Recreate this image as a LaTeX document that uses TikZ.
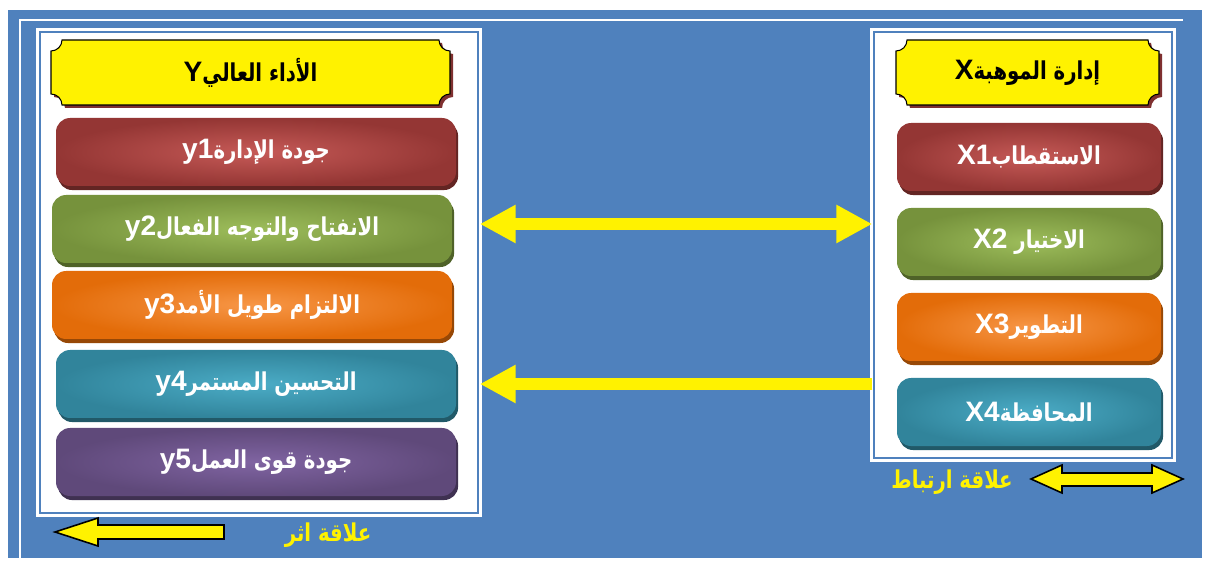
\documentclass[tikz,border=0pt]{standalone}
\usepackage{fontspec}
\setmainfont{Liberation Sans}
\newfontfamily\arabicfont[Script=Arabic, FakeStretch=0.8]{DejaVu Sans}
\TeXXeTstate=1
\usetikzlibrary{arrows.meta,shadows}

\definecolor{frameblue}{HTML}{4F81BD}
\definecolor{headshadow}{HTML}{7F3030}
\definecolor{redout}{HTML}{943634}
\definecolor{redin}{HTML}{C65A57}
\definecolor{redsh}{HTML}{632523}
\definecolor{greenout}{HTML}{76923C}
\definecolor{greenin}{HTML}{9DBD5B}
\definecolor{greensh}{HTML}{4F6228}
\definecolor{orangeout}{HTML}{E36C09}
\definecolor{orangein}{HTML}{F79646}
\definecolor{orangesh}{HTML}{974806}
\definecolor{tealout}{HTML}{31849B}
\definecolor{tealin}{HTML}{4BACC6}
\definecolor{tealsh}{HTML}{215968}
\definecolor{purpleout}{HTML}{5F497A}
\definecolor{purplein}{HTML}{8064A2}
\definecolor{purplesh}{HTML}{3F3151}

\newcommand{\pxu}{0.02cm}
\newcommand{\artext}[1]{{\arabicfont\bfseries\beginR #1\endR}}
\newcommand{\latword}[1]{\beginL{\rmfamily\bfseries\fontsize{16}{18}\selectfont #1}\endL{}}
% plaque outline with concave corners: x0, y0, x1, y1
\newcommand{\plaque}[4]{(#1,#2+11) arc[start angle=90,end angle=0,radius=11]
  -- (#3-11,#2) arc[start angle=180,end angle=90,radius=11]
  -- (#3,#4-11) arc[start angle=270,end angle=180,radius=11]
  -- (#1+11,#4) arc[start angle=0,end angle=-90,radius=11] -- cycle}

\tikzset{
  panel/.style={draw=white, double=frameblue, double distance=0.6pt,
    line width=2pt, fill=white, inner sep=0pt},
  headtext/.style={font=\fontsize{14}{18}\selectfont, text=black},
  item/.style n args={3}{rounded corners=8pt, minimum width=400*\pxu,
    minimum height=68*\pxu, inner color=#1, outer color=#2,
    general shadow={shadow xshift=1.2pt, shadow yshift=-2.3pt, fill=#3},
    text=white, font=\fontsize{14}{18}\selectfont},
  sitem/.style n args={3}{item={#1}{#2}{#3}, minimum width=264*\pxu},
  bigarrow/.style={draw=yellow, line width=6.8pt},
  legarrow/.style={fill=yellow, draw=black, line width=0.9pt},
  legtext/.style={text=yellow, font=\fontsize{14}{18}\selectfont},
}

\begin{document}
\begin{tikzpicture}[x=0.02cm, y=-0.02cm]
  \useasboundingbox (0,0) rectangle (1206,563);

  % Frame
  \fill[frameblue] (8,10) rectangle (1202,558);
  \draw[white, line width=1.2pt] (20,558) -- (20,20) -- (1183,20);

  % Panels
  \node[panel, minimum width=438*\pxu, minimum height=481*\pxu] (lp) at (259,272.5) {};
  \node[panel, minimum width=298*\pxu, minimum height=426*\pxu] (rp) at (1023,245) {};

  % Headers
  \fill[headshadow, shift={(3,3)}] \plaque{51}{40}{450}{105};
  \draw[fill=yellow, line width=0.6pt] \plaque{51}{40}{450}{105};
  \node[headtext] (hy) at (250.5,72.5) {\artext{الأداء العالي\latword{Y}}};
  \fill[headshadow, shift={(3,3)}] \plaque{896}{40}{1159}{105};
  \draw[fill=yellow, line width=0.6pt] \plaque{896}{40}{1159}{105};
  \node[headtext] (hx) at (1027.5,72.5) {\artext{إدارة الموهبة\latword{X}}};

  % Dimensions of Y
  \node[item={redin}{redout}{redsh}] (y1) at (256,152) {\artext{جودة الإدارة\latword{y1}}};
  \node[item={greenin}{greenout}{greensh}] (y2) at (252,229) {\artext{الانفتاح والتوجه الفعال\latword{y2}}};
  \node[item={orangein}{orangeout}{orangesh}] (y3) at (252,305) {\artext{الالتزام طويل الأمد\latword{y3}}};
  \node[item={tealin}{tealout}{tealsh}] (y4) at (256,384) {\artext{التحسين المستمر\latword{y4}}};
  \node[item={purplein}{purpleout}{purplesh}] (y5) at (256,462) {\artext{جودة قوى العمل\latword{y5}}};

  % Dimensions of X
  \node[sitem={redin}{redout}{redsh}] (x1) at (1029,157) {\artext{الاستقطاب\latword{X1}}};
  \node[sitem={greenin}{greenout}{greensh}] (x2) at (1029,242) {\artext{الاختيار \latword{X2}}};
  \node[sitem={orangein}{orangeout}{orangesh}] (x3) at (1029,327) {\artext{التطوير\latword{X3}}};
  \node[sitem={tealin}{tealout}{tealsh}] (x4) at (1029,412) {\artext{المحافظة\latword{X4}}};

  % Relations between panels
  \coordinate (ta) at (0,224);
  \coordinate (ba) at (0,384);
  \draw[bigarrow, {Triangle[length=20.4pt,width=20.4pt]}-{Triangle[length=20.4pt,width=20.4pt]}]
    (lp.east |- ta) -- (rp.west |- ta);
  \draw[bigarrow, -{Triangle[length=20.4pt,width=20.4pt]}]
    (rp.west |- ba) -- (lp.east |- ba);

  % Legend
  \draw[legarrow] (55,532) -- (98,518) -- (98,525) -- (224,525) -- (224,539)
    -- (98,539) -- (98,546) -- cycle;
  \node[legtext] (la) at (328,535) {\artext{علاقة اثر}};
  \draw[legarrow] (1031,479) -- (1062,465) -- (1062,473) -- (1152,473) -- (1152,465)
    -- (1183,479) -- (1152,493) -- (1152,486) -- (1062,486) -- (1062,493) -- cycle;
  \node[legtext] (lr) at (952,482) {\artext{علاقة ارتباط}};
\end{tikzpicture}
\end{document}
